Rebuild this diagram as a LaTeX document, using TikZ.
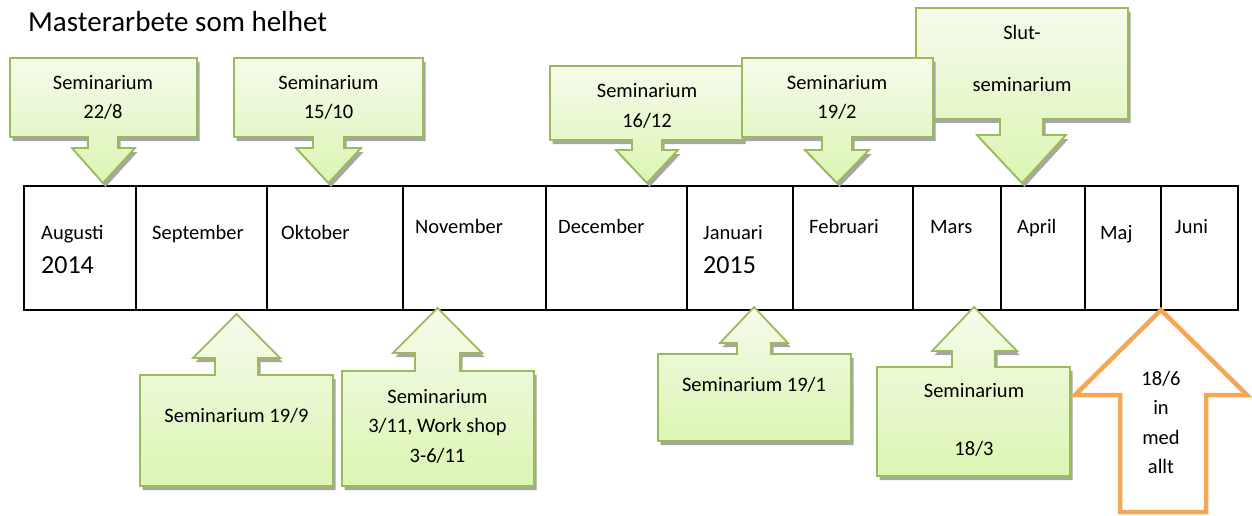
\documentclass[tikz,border=0pt]{standalone}
\usepackage{fontspec}
\setmainfont{Carlito}
\usetikzlibrary{shadows}
\definecolor{callgreen}{RGB}{155,187,89}
\definecolor{calltop}{RGB}{245,251,236}
\definecolor{callbot}{RGB}{219,245,178}
\definecolor{goalorange}{RGB}{247,166,85}

\begin{document}
\begin{tikzpicture}[x=1pt, y=-1pt, line join=miter,
callout/.style={draw=callgreen, line width=1.8pt, top color=calltop, bottom color=callbot, drop shadow={shadow xshift=2.5pt, shadow yshift=-4pt, fill=black!35, opacity=1}},
goal/.style={draw=goalorange, line width=4.5pt, fill=white},
month/.style={anchor=base west, inner sep=0pt, font=\fontsize{20.5}{24}\selectfont},
year/.style={anchor=base west, inner sep=0pt, font=\fontsize{26}{30}\selectfont},
calltext/.style={anchor=base, inner sep=0pt, font=\fontsize{20.5}{24}\selectfont}]
\useasboundingbox (0,0) rectangle (1252,516);

\node[anchor=base west, inner sep=0pt, font=\fontsize{29}{34}\selectfont] (title) at (28,32) {Masterarbete som helhet};

% timeline
\draw[line width=2pt] (24,186) rectangle (1238,310);
\foreach \x in {136,267,403,546,687,793,913,1001,1085,1161}
  \draw[line width=2pt] (\x,186) -- (\x,310);

\node[month] (aug) at (41,239.5) {Augusti};
\node[year] (y14) at (41,273) {2014};
\node[month] (sep) at (152,239.5) {September};
\node[month] (okt) at (281,239.5) {Oktober};
\node[month] (nov) at (415,233.5) {November};
\node[month] (dec) at (558,233.5) {December};
\node[month] (jan) at (703,239.5) {Januari};
\node[year] (y15) at (703,273) {2015};
\node[month] (feb) at (809,233.5) {Februari};
\node[month] (mar) at (930,233.5) {Mars};
\node[month] (apr) at (1017,233.5) {April};
\node[month] (maj) at (1100,239.5) {Maj};
\node[month] (jun) at (1175,233.5) {Juni};

% seminarier ovanfor
\draw[callout] (10,58) -- (197,58) -- (197,137) -- (118,137) -- (118,148) -- (135,148) -- (103,183) -- (72,148) -- (88,148) -- (88,137) -- (10,137) -- cycle;
\draw[callout] (234,58) -- (423,58) -- (423,137) -- (344,137) -- (344,148) -- (361,148) -- (328.5,183) -- (296,148) -- (313,148) -- (313,137) -- (234,137) -- cycle;
\draw[callout] (550,66) -- (743,66) -- (743,140) -- (662,140) -- (662,150) -- (678,150) -- (647,183) -- (616,150) -- (632,150) -- (632,140) -- (550,140) -- cycle;
\draw[callout] (916,8) -- (1128,8) -- (1128,119) -- (1043,119) -- (1043,135) -- (1066,135) -- (1022,183) -- (977,135) -- (1000,135) -- (1000,119) -- (916,119) -- cycle;
\draw[callout] (742,58) -- (933,58) -- (933,137) -- (852,137) -- (852,150) -- (869,150) -- (837,183) -- (805,150) -- (822,150) -- (822,137) -- (742,137) -- cycle;

\node[calltext] (s1a) at (103,89.5) {Seminarium};
\node[calltext] (s1b) at (103,118.5) {22/8};
\node[calltext] (s2a) at (328.5,89.5) {Seminarium};
\node[calltext] (s2b) at (328.5,118.5) {15/10};
\node[calltext] (s3a) at (647,97.5) {Seminarium};
\node[calltext] (s3b) at (647,127.5) {16/12};
\node[calltext] (s4a) at (837,89.5) {Seminarium};
\node[calltext] (s4b) at (837,118.5) {19/2};
\node[calltext] (s5a) at (1022,40) {Slut-};
\node[calltext] (s5b) at (1022,92) {seminarium};

% seminarier nedanfor
\draw[callout] (236.5,314) -- (280,358) -- (258,358) -- (258,375) -- (333,375) -- (333,486) -- (140,486) -- (140,375) -- (215,375) -- (215,358) -- (193,358) -- cycle;
\draw[callout] (437.5,308) -- (482,353) -- (460,353) -- (460,371) -- (534,371) -- (534,486) -- (342,486) -- (342,371) -- (415,371) -- (415,353) -- (393,353) -- cycle;
\draw[callout] (754,307) -- (788,343) -- (771,343) -- (771,354) -- (851,354) -- (851,441) -- (658,441) -- (658,354) -- (737,354) -- (737,343) -- (720,343) -- cycle;
\draw[callout] (974,307) -- (1017,351) -- (995,351) -- (995,367) -- (1070,367) -- (1070,476) -- (877,476) -- (877,367) -- (952,367) -- (952,351) -- (932,351) -- cycle;
\draw[goal] (1161,310) -- (1247,395) -- (1206,395) -- (1206,512) -- (1120,512) -- (1120,395) -- (1075,395) -- cycle;

\node[calltext] (s6) at (236.5,422) {Seminarium 19/9};
\node[calltext] (s7a) at (437.5,403) {Seminarium};
\node[calltext] (s7b) at (437.5,432) {3/11, Work shop};
\node[calltext] (s7c) at (437.5,462) {3-6/11};
\node[calltext] (s8) at (754,391) {Seminarium 19/1};
\node[calltext] (s9a) at (974,397) {Seminarium};
\node[calltext] (s9b) at (974,455.5) {18/3};
\node[calltext] (g1) at (1161,385) {18/6};
\node[calltext] (g2) at (1161,414) {in};
\node[calltext] (g3) at (1161,444) {med};
\node[calltext] (g4) at (1161,473.5) {allt};
\end{tikzpicture}
\end{document}
